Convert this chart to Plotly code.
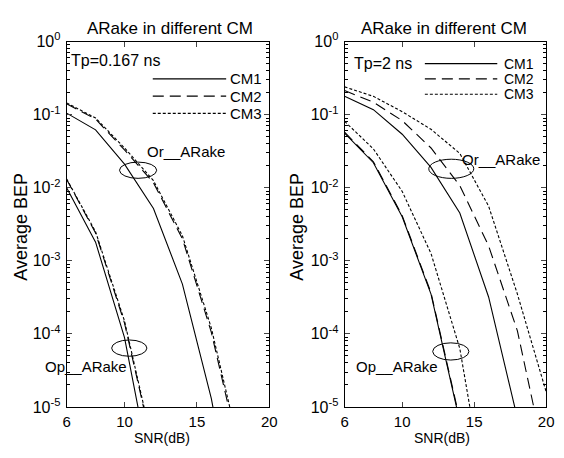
import plotly.graph_objects as go

# ---------------- data ----------------
snr = [6, 8, 10, 12, 14, 16, 18, 20]

# Left panel: Tp = 0.167 ns
or_cm1_l = [1.05e-1, 6.2e-2, 2.1e-2, 5.2e-3, 4.8e-4, 1.3e-5, 1.0e-7]
or_cm2_l = [1.41e-1, 8.7e-2, 3.3e-2, 1.17e-2, 2.0e-3, 1.05e-4, 2.0e-6]
or_cm3_l = [1.45e-1, 9.0e-2, 3.5e-2, 1.25e-2, 2.2e-3, 1.2e-4, 2.4e-6]
op_cm1_l = [1.0e-2, 1.8e-3, 8.9e-5, 8.0e-7]
op_cm2_l = [1.3e-2, 2.4e-3, 1.4e-4, 2.5e-6]
op_cm3_l = [1.32e-2, 2.5e-3, 1.5e-4, 2.7e-6]

# Right panel: Tp = 2 ns
or_cm1_r = [1.78e-1, 1.17e-1, 5.4e-2, 1.9e-2, 4.5e-3, 3.2e-4, 7.0e-6]
or_cm2_r = [2.14e-1, 1.48e-1, 8.3e-2, 3.5e-2, 1.07e-2, 1.6e-3, 1.1e-4, 1.6e-6]
or_cm3_r = [2.4e-1, 1.78e-1, 1.1e-1, 6.3e-2, 2.95e-2, 5.6e-3, 3.5e-4, 1.6e-5]
op_cm1_r = [5.6e-2, 2.2e-2, 4.0e-3, 3.5e-4, 6.3e-6, 3.0e-8]
op_cm2_r = [5.75e-2, 2.27e-2, 4.15e-3, 3.65e-4, 6.7e-6, 3.3e-8]
op_cm3_r = [8.1e-2, 3.4e-2, 8.9e-3, 1.26e-3, 6.3e-5, 3.2e-7]

xticks = [6, 10, 15, 20]
yticks = [1e0, 1e-1, 1e-2, 1e-3, 1e-4, 1e-5]
yticktext = ["10<sup>0</sup>", "10<sup>-1</sup>", "10<sup>-2</sup>",
             "10<sup>-3</sup>", "10<sup>-4</sup>", "10<sup>-5</sup>"]
yminor = [m * 10.0 ** e for e in range(-5, 0) for m in range(2, 10)]

legend_names = ["CM1", "CM2", "CM3"]
dashes = ["solid", "11px,6px", "3px,2px"]

# ---------------- figure ----------------
W, H = 564, 458
fig = go.Figure()

def add(x, y, dash, xa, ya):
    fig.add_trace(go.Scatter(x=x[:len(y)], y=y, mode="lines",
                             line=dict(color="black", width=1.1, dash=dash),
                             xaxis=xa, yaxis=ya, showlegend=False,
                             hoverinfo="skip"))

for ys, d in [(or_cm1_l, dashes[0]), (or_cm2_l, dashes[1]), (or_cm3_l, dashes[2]),
              (op_cm1_l, dashes[0]), (op_cm2_l, dashes[1]), (op_cm3_l, dashes[2])]:
    add(snr, ys, d, "x", "y")
for ys, d in [(or_cm1_r, dashes[0]), (or_cm2_r, dashes[1]), (or_cm3_r, dashes[2]),
              (op_cm1_r, dashes[0]), (op_cm2_r, dashes[1]), (op_cm3_r, dashes[2])]:
    add(snr, ys, d, "x2", "y2")

FONT = "Liberation Sans, Arial, sans-serif"

def px_x(p):
    return p / W

def px_y(p):
    return 1 - p / H

xdomL = [px_x(64), px_x(271)]
xdomR = [px_x(348), px_x(554)]
ydom = [px_y(414), px_y(32)]

xcommon = dict(range=[6, 20], tickvals=xticks, ticks="inside", ticklen=5,
               mirror="ticks", showline=True, linecolor="black", linewidth=1,
               showgrid=False, zeroline=False, tickfont=dict(size=15, color="black"),
               ticklabelstandoff=1, fixedrange=True)
ycommon = dict(type="log", range=[-5, 0], tickvals=yticks, ticktext=yticktext,
               ticks="inside", ticklen=5, mirror="ticks", showline=True,
               linecolor="black", linewidth=1, showgrid=False, zeroline=False,
               tickfont=dict(size=16, color="black"), ticklabelstandoff=2,
               minor=dict(tickvals=yminor, ticks="inside", ticklen=3,
                          tickcolor="black", showgrid=False),
               fixedrange=True)

fig.update_layout(
    width=W, height=H, margin=dict(l=0, r=0, t=0, b=0),
    paper_bgcolor="white", plot_bgcolor="white",
    font=dict(family=FONT, color="black"),
    xaxis=dict(domain=xdomL, anchor="y", **xcommon),
    yaxis=dict(domain=ydom, anchor="x", **ycommon),
    xaxis2=dict(domain=xdomR, anchor="y2", **xcommon),
    yaxis2=dict(domain=ydom, anchor="x2", **ycommon),
)

annotations = []
shapes = []

def text(x, y, s, size=15, xanchor="left", angle=0):
    annotations.append(dict(x=px_x(x), y=px_y(y), xref="paper", yref="paper",
                            text=s, showarrow=False, xanchor=xanchor,
                            yanchor="middle", textangle=angle, borderpad=0,
                            font=dict(size=size, family=FONT, color="black")))

# titles
text(170, 18, "ARake in different CM", 17, "center")
text(450, 18, "ARake in different CM", 17, "center")
text(17, 226, "Average BEP", 18, "center", -90)
text(300, 226, "Average BEP", 18, "center", -90)
text(161, 447, "SNR(dB)", 14, "center")
text(448, 447, "SNR(dB)", 14, "center")

# notes
text(67, 52, "Tp=0.167 ns", 16)
text(357, 55, "Tp=2 ns", 16)
text(145, 147, "Or__ARake", 15)
text(41, 372, "Op__ARake", 15)
text(467, 155, "Or__ARake", 15)
text(359, 372, "Op__ARake", 15)

def ellipse(x0, y0, x1, y1):
    shapes.append(dict(type="circle", xref="paper", yref="paper",
                       x0=px_x(x0), x1=px_x(x1), y0=px_y(y1), y1=px_y(y0),
                       line=dict(color="black", width=1)))

ellipse(118, 158, 156, 175)
ellipse(110, 344, 146, 361)
ellipse(434, 155, 480, 175)
ellipse(438, 347, 475, 365)

# manual legends
def legend(x0, x1, ys, xt, fs):
    for name, d, yy in zip(legend_names, dashes, ys):
        shapes.append(dict(type="line", xref="paper", yref="paper",
                           x0=px_x(x0), x1=px_x(x1), y0=px_y(yy), y1=px_y(yy),
                           line=dict(color="black", width=1.1, dash=d)))
        text(xt, yy, name, fs)

legend(152, 227, [71, 89, 107], 230, 15)
legend(430, 504, [55, 71, 87], 510, 14)

fig.update_layout(annotations=annotations, shapes=shapes)
fig.write_html("out.html")
